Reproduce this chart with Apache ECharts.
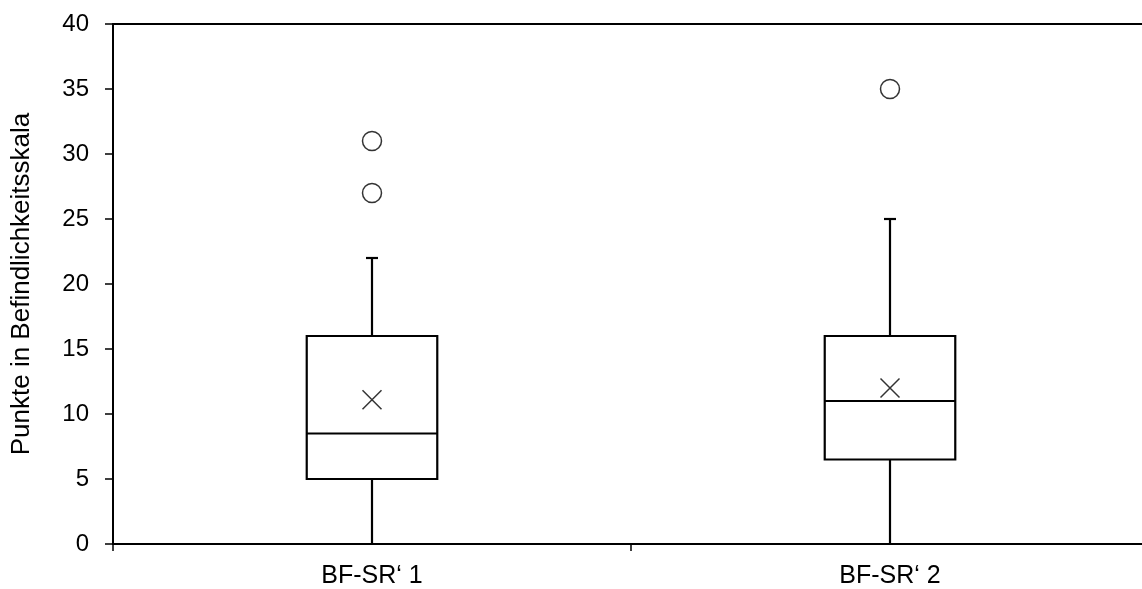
<!DOCTYPE html>
<html>
<head>
<meta charset="utf-8">
<script src="https://cdn.jsdelivr.net/npm/echarts@6/dist/echarts.min.js"></script>
<style>
  html, body { margin: 0; padding: 0; background: #fff; }
  #chart { width: 1142px; height: 589px; }
</style>
</head>
<body>
<div id="chart"></div>
<script>
// Kategorien
const categories = ['BF-SR\u2018 1', 'BF-SR\u2018 2'];
// [min, Q1, Median, Q3, max] je Kategorie
const boxValues = [
  [0, 5, 8.5, 16, 22],
  [0, 6.5, 11, 16, 25]
];
// Mittelwerte (x)
const meanValues = [11.1, 12];
// Ausreißer [Kategorie, Wert]
const outliers = [
  [0, 27],
  [0, 31],
  [1, 35]
];
const yTicks = { min: 0, max: 40, interval: 5 };

const chart = echarts.init(document.getElementById('chart'));
const fontFamily = '"Liberation Sans", Arial, sans-serif';

const crossPath = 'path://M0,0L10,10M10,0L0,10';

chart.setOption({
  animation: false,
  // Plotfläche ragt rechts etwas über den Rand hinaus
  grid: { left: 113, width: 1036, top: 24, bottom: 45, outerBoundsMode: 'none', containLabel: false },
  xAxis: [
    {
      type: 'category',
      data: categories,
      boundaryGap: true,
      axisLine: { lineStyle: { color: '#000', width: 2 } },
      axisTick: { show: true, length: 7, lineStyle: { color: '#000', width: 1.5 } },
      axisLabel: { color: '#000', fontSize: 25, fontFamily: fontFamily, margin: 20 },
      splitLine: { show: false }
    },
    {
      // obere Rahmenlinie
      type: 'category',
      data: categories,
      position: 'top',
      axisLine: { lineStyle: { color: '#000', width: 2 } },
      axisTick: { show: false },
      axisLabel: { show: false },
      splitLine: { show: false }
    }
  ],
  yAxis: {
    type: 'value',
    min: yTicks.min,
    max: yTicks.max,
    interval: yTicks.interval,
    name: 'Punkte in Befindlichkeitsskala',
    nameLocation: 'middle',
    nameGap: 78,
    nameTextStyle: { color: '#000', fontSize: 26, fontFamily: fontFamily },
    axisLine: { show: true, lineStyle: { color: '#000', width: 2 } },
    axisTick: { show: true, length: 8, lineStyle: { color: '#000', width: 1.5 } },
    axisLabel: { color: '#000', fontSize: 24, fontFamily: fontFamily, margin: 24 },
    splitLine: { show: false }
  },
  series: [
    {
      type: 'custom',
      data: boxValues.map((v, i) => [i].concat(v)),
      encode: { x: 0, y: [1, 2, 3, 4, 5] },
      renderItem: function (params, api) {
        const idx = api.value(0);
        const low = api.coord([idx, api.value(1)]);
        const q1 = api.coord([idx, api.value(2)]);
        const med = api.coord([idx, api.value(3)]);
        const q3 = api.coord([idx, api.value(4)]);
        const high = api.coord([idx, api.value(5)]);
        const band = api.size([1, 0])[0];
        const halfW = band * 0.126;
        const cx = low[0];
        const capW = 6;
        const style = { stroke: '#000', lineWidth: 2.2, fill: null };
        return {
          type: 'group',
          children: [
            { type: 'line', shape: { x1: cx, y1: low[1], x2: cx, y2: q1[1] }, style: style },
            { type: 'line', shape: { x1: cx, y1: q3[1], x2: cx, y2: high[1] }, style: style },
            { type: 'line', shape: { x1: cx - capW, y1: high[1], x2: cx + capW, y2: high[1] }, style: style },
            { type: 'rect', shape: { x: cx - halfW, y: q3[1], width: halfW * 2, height: q1[1] - q3[1] }, style: { stroke: '#000', lineWidth: 2.2, fill: '#fff' } },
            { type: 'line', shape: { x1: cx - halfW, y1: med[1], x2: cx + halfW, y2: med[1] }, style: style }
          ]
        };
      },
      z: 2
    },
    {
      type: 'scatter',
      data: meanValues.map((v, i) => [i, v]),
      symbol: crossPath,
      symbolSize: 19,
      itemStyle: { color: 'none', borderColor: '#000', borderWidth: 1.5 },
      z: 3
    },
    {
      type: 'scatter',
      data: outliers,
      symbol: 'circle',
      symbolSize: 19,
      itemStyle: { color: '#fff', borderColor: '#000', borderWidth: 1.5 },
      z: 3
    }
  ]
});
</script>
</body>
</html>
